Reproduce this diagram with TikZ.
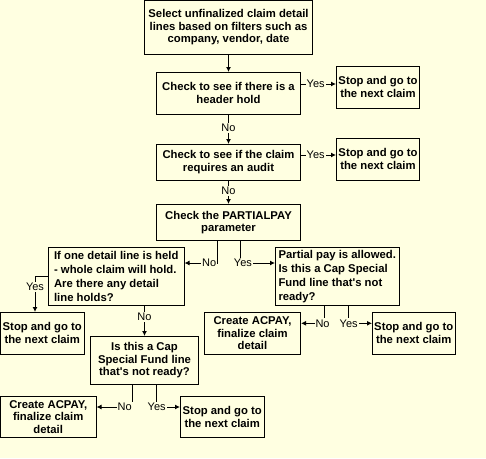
\documentclass[tikz,border=0pt]{standalone}
\usepackage{fontspec}
\setmainfont{Liberation Sans}
\usetikzlibrary{arrows.meta}
\definecolor{bg}{RGB}{255,255,225}
\tikzset{
  box/.style={draw, line width=1pt, fill=bg, inner sep=0pt, align=center,
    font=\bfseries\fontsize{11.3}{12.6}\selectfont},
  wide/.style={align=left, font=\bfseries\fontsize{11.3}{14}\selectfont},
  lbl/.style={fill=bg, inner sep=1pt, font=\fontsize{11}{12}\selectfont},
  arr/.style={-{Latex[length=5pt,width=5pt]}, line width=1pt}
}
\begin{document}
\begin{tikzpicture}[x=1pt,y=-1pt]
\fill[bg] (0,0) rectangle (486,458);
\useasboundingbox (0,0) rectangle (486,458);
% boxes
\node[box, minimum width=168pt, minimum height=53.5pt] (b1) at (228.5,27.25)
  {Select unfinalized claim detail\\lines based on filters such as\\company, vendor, date};
\node[box, minimum width=144pt, minimum height=41.5pt] (b2) at (228.5,93.25)
  {Check to see if there is a\\header hold};
\node[box, minimum width=83pt, minimum height=41.5pt] (s1) at (378,87.25)
  {Stop and go to\\the next claim};
\node[box, minimum width=144pt, minimum height=35.5pt] (b3) at (228.5,162.25)
  {Check to see if the claim\\requires an audit};
\node[box, minimum width=83pt, minimum height=41.5pt] (s2) at (378,159.25)
  {Stop and go to\\the next claim};
\node[box, minimum width=144pt, minimum height=36pt] (b4) at (228.5,222.5)
  {Check the PARTIALPAY\\parameter};
\node[box, wide, minimum width=135.5pt, minimum height=57.5pt] (b5) at (116.25,276.25)
  {If one detail line is held\\- whole claim will hold.\\Are there any detail\\line holds?};
\node[box, wide, minimum width=123.5pt, minimum height=57.5pt] (b6) at (337.25,276.25)
  {Partial pay is allowed.\\Is this a Cap Special\\Fund line that\textquotesingle s not\\ready?};
\node[box, minimum width=83.5pt, minimum height=41.5pt] (s3) at (42.25,333.25)
  {Stop and go to\\the next claim};
\node[box, minimum width=108pt, minimum height=47.5pt] (b7) at (144.5,360.25)
  {Is this a Cap\\Special Fund line\\that\textquotesingle s not ready?};
\node[box, minimum width=96pt, minimum height=41.5pt] (c1) at (252.5,333.25)
  {Create ACPAY,\\finalize claim\\detail};
\node[box, minimum width=82.5pt, minimum height=41.5pt] (s4) at (413.75,333.25)
  {Stop and go to\\the next claim};
\node[box, minimum width=95.5pt, minimum height=40.5pt] (c2) at (48.25,416.75)
  {Create ACPAY,\\finalize claim\\detail};
\node[box, minimum width=83.5pt, minimum height=40.5pt] (s5) at (222.25,416.75)
  {Stop and go to\\the next claim};
% helper coordinates
\coordinate (yA) at (0,84);
\coordinate (yB) at (0,155);
\coordinate (k1) at (217,263);
\coordinate (k2) at (240.5,263);
\coordinate (k3) at (35,276);
\coordinate (k5) at (324.7,323.3);
\coordinate (k6) at (348.7,323.3);
\coordinate (k7) at (132.7,407);
\coordinate (k8) at (156.7,407);
% connectors
\draw[arr] (b1) -- (b2);
\draw[arr] (b2.east |- yA) -- node[lbl, pos=0.42] (l1) {Yes} (s1.west |- yA);
\draw[arr] (b2) -- node[lbl, pos=0.46] (l2) {No} (b3);
\draw[arr] (b3.east |- yB) -- node[lbl, pos=0.42] (l3) {Yes} (s2.west |- yB);
\draw[arr] (b3) -- node[lbl, pos=0.45] (l4) {No} (b4);
\draw[arr] (b4.south -| k1) |- node[lbl, pos=0.62] (l5) {No} (b5.east |- k1);
\draw[arr] (b4.south -| k2) |- node[lbl, pos=0.535] (l6) {Yes} (b6.west |- k2);
\draw[arr] (b5.west |- k3) -| node[lbl, pos=0.655] (l7) {Yes} (s3.north -| k3);
\draw[arr] (b5.south -| b7.north) -- node[lbl, pos=0.38] (l8) {No} (b7.north);
\draw[arr] (b6.south -| k5) |- node[lbl, pos=0.545] (l9) {No} (c1.east |- k5);
\draw[arr] (b6.south -| k6) |- node[lbl, pos=0.5] (l10) {Yes} (s4.west |- k6);
\draw[arr] (b7.south -| k7) |- node[lbl, pos=0.61] (l11) {No} (c2.east |- k7);
\draw[arr] (b7.south -| k8) |- node[lbl, pos=0.5] (l12) {Yes} (s5.west |- k8);
\end{tikzpicture}
\end{document}
